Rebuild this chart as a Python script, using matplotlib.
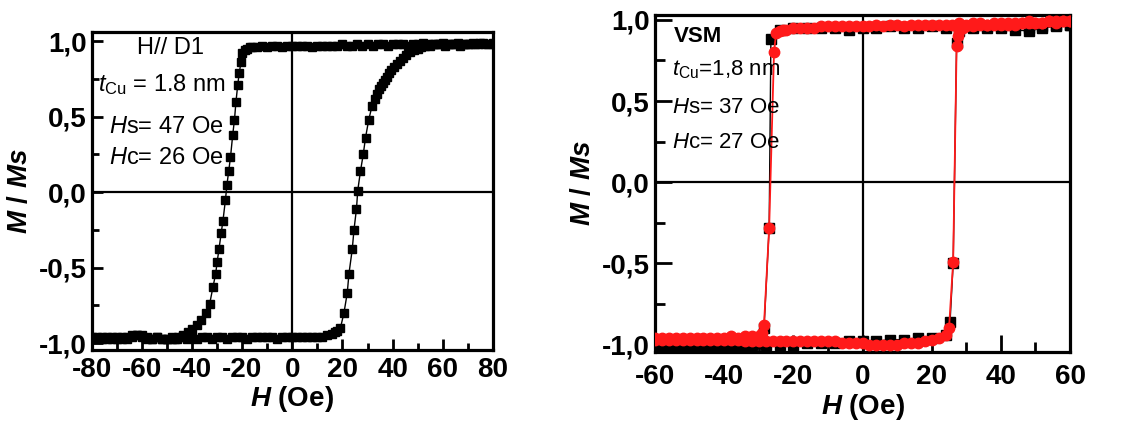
import numpy as np
import matplotlib
matplotlib.use("Agg")
import matplotlib.pyplot as plt
from matplotlib.ticker import MultipleLocator, FuncFormatter

plt.rcParams['font.family'] = ['Liberation Sans', 'DejaVu Sans']
plt.rcParams['mathtext.fontset'] = 'custom'
plt.rcParams['mathtext.rm'] = 'Liberation Sans'
plt.rcParams['mathtext.it'] = 'Liberation Sans:italic'
plt.rcParams['mathtext.bf'] = 'Liberation Sans:bold'
plt.rcParams['mathtext.bfit'] = 'Liberation Sans:italic:bold'

# ---- left panel (H // D1), descending branch
h_left_dn = [80, 78, 76, 74, 72, 70, 68, 66, 64, 62, 60, 58, 56, 54, 52, 50, 48, 46, 44, 42,
             40, 38, 36, 34, 32, 30, 28, 26, 24, 22, 20, 18, 16, 14, 12, 10, 8, 6, 4, 2,
             0, -2, -4, -6, -8, -10, -12, -14, -16, -17, -18, -19, -20, -20.5, -21.2, -21.8,
             -22.5, -23.1, -23.8, -24.7, -25.4, -26.1, -26.7, -27.7, -28.4, -29.3, -30.0,
             -30.6, -31.7, -33.0, -34.5, -36.3, -38, -40, -41.6, -43.5, -45.6, -47, -48,
             -50, -52, -54, -56, -58, -60, -62, -64, -66, -68, -70, -72, -74, -76, -78, -80]
m_left_dn = [0.99, 0.98, 0.99, 0.98, 0.99, 0.98, 0.98, 0.99, 0.98, 0.98, 0.99, 0.98, 0.98, 0.98, 0.99, 0.98, 0.98, 0.97, 0.98, 0.98,
             0.98, 0.97, 0.98, 0.98, 0.97, 0.98, 0.97, 0.98, 0.97, 0.97, 0.98, 0.97, 0.97, 0.97, 0.97, 0.97, 0.96, 0.97, 0.97, 0.97,
             0.97, 0.97, 0.96, 0.97, 0.97, 0.96, 0.97, 0.96, 0.96, 0.96, 0.95, 0.94, 0.92, 0.86, 0.79, 0.71,
             0.60, 0.48, 0.38, 0.23, 0.14, 0.05, -0.05, -0.19, -0.27, -0.38, -0.46,
             -0.54, -0.63, -0.74, -0.80, -0.85, -0.88, -0.91, -0.93, -0.95, -0.96, -0.97, -0.97,
             -0.97, -0.97, -0.96, -0.97, -0.97, -0.96, -0.95, -0.96, -0.97, -0.97, -0.96, -0.97, -0.96, -0.97, -0.96, -0.97]

# ---- left panel, ascending branch
h_left_up = [-80, -78, -76, -74, -72, -70, -68, -66, -64, -62, -60, -58, -56, -54, -52, -50, -48, -46, -44, -42,
             -40, -38, -36, -34, -32, -30, -28, -26, -24, -22, -20, -18, -16, -14, -12, -10, -8, -6, -4, -2,
             0, 2, 4, 6, 8, 10, 12, 14, 16, 17, 18, 19.2, 20.6, 21.9, 22.6, 23.9, 24.6, 25.6, 26.1,
             27.2, 28.3, 29.2, 30.5, 31.8, 32.8, 33.6, 34.4, 35.2, 36.0, 36.9, 37.8, 38.6, 39.5, 40.5,
             41.7, 42.8, 44, 45.5, 47, 48.5, 50, 51.5, 53, 55, 57, 59, 61, 63, 65, 67, 69, 71, 73, 75, 77, 80]
m_left_up = [-0.96, -0.97, -0.96, -0.97, -0.96, -0.97, -0.96, -0.96, -0.95, -0.95, -0.95, -0.96, -0.97, -0.96, -0.97, -0.97, -0.96, -0.97, -0.96, -0.97,
             -0.96, -0.97, -0.96, -0.96, -0.97, -0.96, -0.96, -0.97, -0.96, -0.96, -0.96, -0.97, -0.96, -0.96, -0.96, -0.96, -0.96, -0.97, -0.96, -0.96,
             -0.96, -0.96, -0.96, -0.96, -0.96, -0.96, -0.96, -0.95, -0.94, -0.93, -0.92, -0.90, -0.80, -0.67, -0.54, -0.38, -0.25, -0.11, 0.01,
             0.14, 0.25, 0.36, 0.48, 0.57, 0.62, 0.65, 0.68, 0.70, 0.72, 0.74, 0.76, 0.79, 0.81, 0.83,
             0.85, 0.87, 0.89, 0.91, 0.93, 0.94, 0.95, 0.96, 0.97, 0.97, 0.98, 0.98, 0.97, 0.98, 0.98, 0.97, 0.98, 0.98, 0.98, 0.99, 0.98, 0.98]

# ---- right panel (VSM), red curve, descending branch
h_right_dn = [60, 58, 56, 54, 52, 50, 48, 46, 44, 42, 40, 38, 36, 34, 32, 30, 28, 26, 24, 22,
              20, 18, 16, 14, 12, 10, 8, 6, 4, 2, 0, -2, -4, -6, -8, -10, -12, -14, -16, -18,
              -20, -22, -23, -24, -25, -25.6, -27.0, -28.5, -29, -30, -32, -34, -36, -38, -40,
              -42, -44, -46, -48, -50, -52, -54, -56, -58, -60]
m_right_dn = [0.99, 0.99, 0.98, 0.99, 0.98, 0.98, 0.99, 0.98, 0.98, 0.98, 0.98, 0.98, 0.97, 0.98, 0.98, 0.97, 0.98, 0.97, 0.97, 0.97,
              0.97, 0.97, 0.97, 0.97, 0.96, 0.97, 0.97, 0.96, 0.97, 0.96, 0.96, 0.96, 0.96, 0.96, 0.96, 0.96, 0.96, 0.95, 0.95, 0.95,
              0.95, 0.94, 0.94, 0.93, 0.92, 0.80, -0.28, -0.88, -0.93, -0.95, -0.95, -0.95, -0.96, -0.95, -0.96,
              -0.96, -0.96, -0.96, -0.96, -0.96, -0.96, -0.96, -0.96, -0.96, -0.96]

# ---- right panel, red curve, ascending branch
h_right_up = [-60, -58, -56, -54, -52, -50, -48, -46, -44, -42, -40, -38, -36, -34, -32, -30, -28, -26, -24, -22,
              -20, -18, -16, -14, -12, -10, -8, -6, -4, -2, 0, 2, 4, 6, 8, 10, 12, 14, 16, 18,
              20, 22, 24, 25, 26.2, 27.2, 27.6, 28, 29, 30, 32, 34, 36, 38, 40, 42, 44, 46, 48,
              50, 52, 54, 56, 58, 60]
m_right_up = [-0.97, -0.97, -0.97, -0.97, -0.97, -0.97, -0.97, -0.97, -0.97, -0.97, -0.97, -0.97, -0.97, -0.98, -0.98, -0.98, -0.98, -0.98, -0.98, -0.98,
              -0.98, -0.98, -0.98, -0.98, -0.98, -0.98, -0.98, -0.99, -0.99, -0.99, -0.99, -1.00, -1.00, -1.00, -1.00, -1.00, -0.99, -0.99, -0.99, -0.98,
              -0.97, -0.96, -0.94, -0.90, -0.49, 0.84, 0.90, 0.93, 0.95, 0.96, 0.96, 0.97, 0.97, 0.97, 0.97, 0.97, 0.97, 0.98, 0.98,
              0.98, 0.98, 0.99, 0.99, 0.99, 0.99]

# ---- right panel, black curve underneath
h_right_blk = [60, 56, 52, 48, 44, 40, 36, 32, 28, 24, 20, 16, 12, 8, 4, 0, -4, -8, -12, -16,
               -20, -24, -26.5, -27.0, -28.5, -30, -34, -38, -42, -46, -50, -54, -58, -60,
               -56, -52, -48, -44, -40, -36, -32, -28, -24, -20, -16, -12, -8, -4, 0, 4, 8,
               12, 16, 20, 24, 25.3, 26.2, 27.2, 28, 32, 36, 40, 44, 48, 52, 56, 60]
m_right_blk = [0.97, 0.97, 0.96, 0.95, 0.96, 0.96, 0.96, 0.96, 0.96, 0.95, 0.96, 0.95, 0.95, 0.96, 0.95, 0.95, 0.94, 0.95, 0.95, 0.95,
               0.95, 0.94, 0.88, -0.28, -0.90, -0.99, -1.00, -1.01, -1.01, -1.01, -1.01, -1.01, -1.01, -1.01,
               -1.01, -1.01, -1.01, -1.01, -1.01, -1.00, -1.00, -1.00, -1.00, -1.00, -0.99, -0.99, -0.99, -0.98, -0.98, -0.98, -0.97,
               -0.97, -0.96, -0.96, -0.94, -0.86, -0.50, 0.86, 0.93, 0.95, 0.95, 0.95, 0.94, 0.93, 0.95, 0.96, 0.97]


def comma(v, pos):
    return ('%.1f' % v).replace('.', ',')


def style_axes(ax, ticklen, xpad):
    ax.xaxis.set_major_locator(MultipleLocator(20))
    ax.xaxis.set_minor_locator(MultipleLocator(10))
    ax.yaxis.set_major_locator(MultipleLocator(0.5))
    ax.yaxis.set_minor_locator(MultipleLocator(0.25))
    ax.yaxis.set_major_formatter(FuncFormatter(comma))
    ax.xaxis.set_major_formatter(FuncFormatter(lambda v, p: '%d' % v))
    ax.tick_params(which='major', direction='in', length=ticklen, width=2, labelsize=20)
    ax.tick_params(which='minor', direction='in', length=ticklen * 0.6, width=2)
    ax.tick_params(axis='y', pad=4)
    ax.tick_params(axis='x', pad=xpad)
    for lab in ax.get_xticklabels() + ax.get_yticklabels():
        lab.set_fontweight('bold')
    for sp in ax.spines.values():
        sp.set_linewidth(2.3)
    ax.axhline(0, color='black', lw=1.6, zorder=1)
    ax.axvline(0, color='black', lw=1.6, zorder=1)
    ax.set_xlabel(r'$\mathbfit{H}$ (Oe)', fontsize=20, fontweight='bold', labelpad=1)
    ax.set_ylabel(r'$\mathbfit{M}$ / $\mathbfit{Ms}$', fontsize=20, fontweight='bold', labelpad=4)


fig = plt.figure(figsize=(11.42, 4.25), dpi=100)

# left panel
ax1 = fig.add_axes([0.0805, 0.1765, 0.351, 0.748])
ax1.plot(h_left_dn, m_left_dn, color='black', lw=1.0, marker='s', ms=6, zorder=3)
ax1.plot(h_left_up, m_left_up, color='black', lw=1.0, marker='s', ms=6, zorder=3)
ax1.set_xlim(-80, 80)
ax1.set_ylim(-1.046, 1.06)
style_axes(ax1, 8, 5)
ax1.text(0.112, 0.95, 'H// D1', transform=ax1.transAxes, fontsize=17, va='center')
ax1.text(0.015, 0.835, r'$t_{\mathrm{Cu}}$ = 1.8 nm', transform=ax1.transAxes, fontsize=17, va='center')
ax1.text(0.042, 0.70, r'$H$s= 47 Oe', transform=ax1.transAxes, fontsize=17, va='center')
ax1.text(0.042, 0.604, r'$H$c= 26 Oe', transform=ax1.transAxes, fontsize=17, va='center')

# right panel
ax2 = fig.add_axes([0.5736, 0.1718, 0.3634, 0.793])
ax2.plot(h_right_blk, m_right_blk, color='black', lw=1.0, marker='s', ms=7, zorder=2)
ax2.plot(h_right_dn, m_right_dn, color='#ff1a1a', lw=1.3, marker='o', ms=7.5, zorder=3)
ax2.plot(h_right_up, m_right_up, color='#ff1a1a', lw=1.3, marker='o', ms=7.5, zorder=3)
ax2.set_xlim(-60, 60)
ax2.set_ylim(-1.046, 1.03)
style_axes(ax2, 12, 9)
ax2.text(0.045, 0.935, 'VSM', transform=ax2.transAxes, fontsize=16, fontweight='bold', va='center')
ax2.text(0.04, 0.837, r'$t_{\mathrm{Cu}}$=1,8 nm', transform=ax2.transAxes, fontsize=16, va='center')
ax2.text(0.04, 0.724, r'$H$s= 37 Oe', transform=ax2.transAxes, fontsize=16, va='center')
ax2.text(0.04, 0.623, r'$H$c= 27 Oe', transform=ax2.transAxes, fontsize=16, va='center')

fig.savefig('out.png', dpi=100)
